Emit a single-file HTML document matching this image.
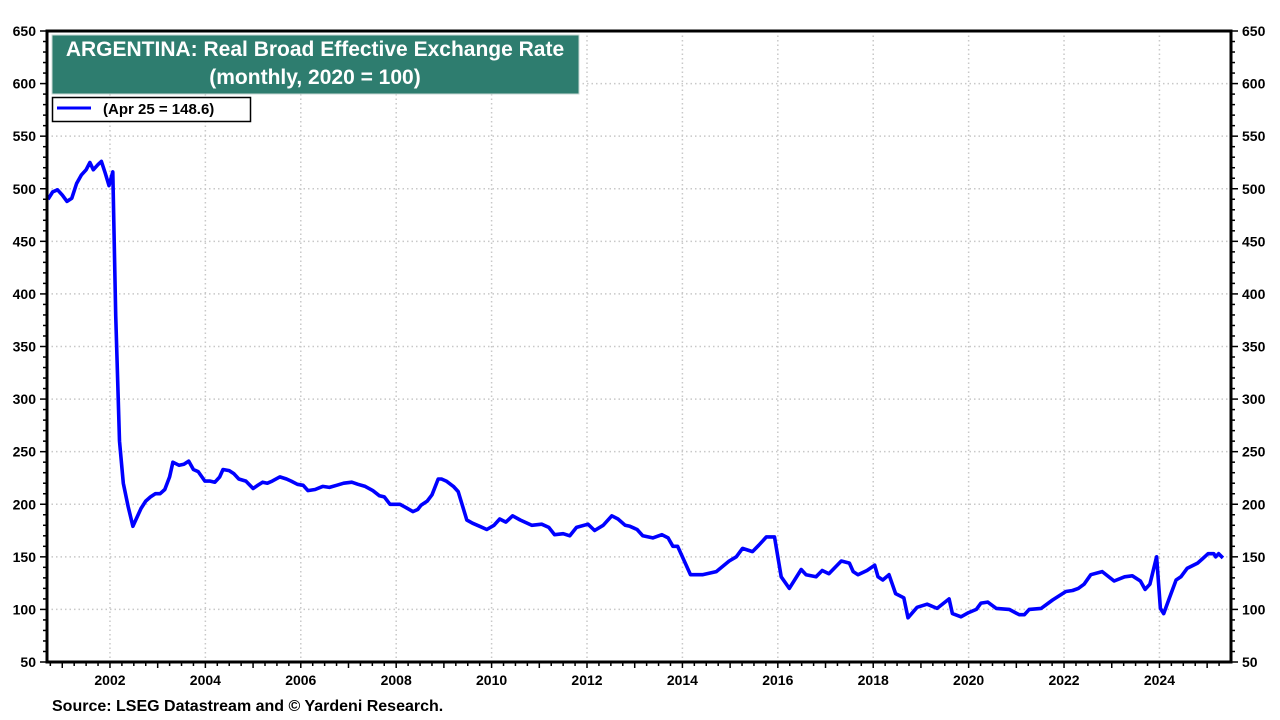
<!DOCTYPE html>
<html><head><meta charset="utf-8"><style>
html,body{margin:0;padding:0;background:#fff;}
svg{display:block;font-family:"Liberation Sans",Arial,sans-serif;}
</style></head><body>
<svg id="chart" width="1280" height="720" xmlns="http://www.w3.org/2000/svg">
<g id="grid"></g>
<g id="axes"></g>
<g id="series"></g>
<rect x="47" y="31" width="1184" height="631" fill="none" stroke="#000" stroke-width="3"/>
<g>
<rect x="52" y="35" width="527" height="59" fill="#2e7d6f" stroke="#c9d9d4" stroke-width="1"/>
<text x="315" y="56" text-anchor="middle" font-size="21" font-weight="bold" fill="#fff">ARGENTINA: Real Broad Effective Exchange Rate</text>
<text x="315" y="84" text-anchor="middle" font-size="21" font-weight="bold" fill="#fff">(monthly, 2020 = 100)</text>
</g>
<g>
<rect x="52.5" y="97.5" width="198" height="24" fill="#fff" stroke="#000" stroke-width="1.5"/>
<line x1="57" y1="108" x2="91" y2="108" stroke="#0000ff" stroke-width="3"/>
<text x="103" y="114" font-size="15" font-weight="bold" fill="#000">(Apr 25 = 148.6)</text>
</g>
<text x="52" y="711" font-size="16" font-weight="bold" fill="#000">Source: LSEG Datastream and © Yardeni Research.</text>
</svg>
<script>
const dates=[2000.7,2000.8,2000.9,2001.0,2001.1,2001.2,2001.3,2001.4,2001.5,2001.58,2001.65,2001.75,2001.82,2001.9,2001.98,2002.06,2002.12,2002.2,2002.28,2002.38,2002.48,2002.55,2002.65,2002.75,2002.85,2002.95,2003.05,2003.15,2003.25,2003.32,2003.45,2003.55,2003.65,2003.75,2003.85,2003.99,2004.1,2004.2,2004.3,2004.37,2004.5,2004.6,2004.7,2004.85,2005.0,2005.1,2005.2,2005.3,2005.4,2005.56,2005.7,2005.8,2005.93,2006.05,2006.15,2006.3,2006.46,2006.6,2006.75,2006.9,2007.07,2007.2,2007.35,2007.51,2007.65,2007.75,2007.87,2008.08,2008.2,2008.35,2008.45,2008.52,2008.65,2008.75,2008.88,2008.95,2009.05,2009.2,2009.3,2009.48,2009.6,2009.75,2009.9,2010.05,2010.17,2010.3,2010.44,2010.6,2010.84,2011.05,2011.2,2011.32,2011.5,2011.64,2011.78,2012.02,2012.16,2012.34,2012.52,2012.65,2012.8,2012.9,2013.05,2013.17,2013.38,2013.57,2013.7,2013.8,2013.9,2014.05,2014.17,2014.42,2014.71,2014.98,2015.13,2015.26,2015.47,2015.6,2015.76,2015.93,2016.07,2016.24,2016.49,2016.59,2016.8,2016.93,2017.07,2017.33,2017.5,2017.58,2017.68,2017.87,2018.03,2018.1,2018.2,2018.33,2018.47,2018.64,2018.73,2018.92,2019.13,2019.34,2019.59,2019.66,2019.84,2020.0,2020.16,2020.26,2020.4,2020.58,2020.85,2021.06,2021.17,2021.27,2021.52,2021.76,2022.04,2022.18,2022.3,2022.42,2022.56,2022.8,2023.05,2023.27,2023.43,2023.6,2023.7,2023.8,2023.94,2024.02,2024.09,2024.21,2024.35,2024.45,2024.58,2024.8,2024.9,2025.02,2025.14,2025.18,2025.24,2025.33];
const values=[490,497,499,494,488,491,505,513,518,525,518,523,526,515,503,516,380,260,220,198,179,186,196,203,207,210,210,214,226,240,237,238,241,233,231,222,222,221,226,233,232,229,224,222,215,218,221,220,222,226,224,222,219,218,213,214,217,216,218,220,221,219,217,213,208,207,200,200,197,193,195,199,203,209,224,224,222,217,212,185,182,179,176,180,186,183,189,185,180,181,178,171,172,170,178,181,175,180,189,186,180,179,176,170,168,171,168,160,160,145,133,133,136,146,150,158,155,161,169,169,131,120,138,133,131,137,134,146,144,136,133,137,142,131,128,133,115,111,92,102,105,101,110,96,93,97,100,106,107,101,100,95,95,100,101,109,117,118,120,124,133,136,127,131,132,127,119,124,150,101,96,111,128,131,139,144,148,153,153,150,153,149];
const yTicks=[50,100,150,200,250,300,350,400,450,500,550,600,650];
const xTickYears=[2002,2004,2006,2008,2010,2012,2014,2016,2018,2020,2022,2024];

const NS='http://www.w3.org/2000/svg';
const L=47,R=1231,T=31,B=662,X0=2000.68,X1=2025.5,Y0=50,Y1=650;
const xs=v=>L+(v-X0)/(X1-X0)*(R-L);
const ys=v=>B-(v-Y0)/(Y1-Y0)*(B-T);
function mk(tag,attrs,parent){const e=document.createElementNS(NS,tag);for(const k in attrs)e.setAttribute(k,attrs[k]);parent.appendChild(e);return e;}
const grid=document.getElementById('grid'),axes=document.getElementById('axes'),series=document.getElementById('series');
yTicks.forEach(v=>{
  const y=ys(v);
  if(v>Y0&&v<Y1){const g=mk('line',{x1:L,x2:R,y1:y,y2:y,stroke:'#c8c8c8','stroke-width':1.5,'stroke-dasharray':'1.5,3'},grid);
  
  }
  const t1=mk('text',{x:36,y:y+5,'text-anchor':'end','font-size':14,'font-weight':'bold'},axes);t1.textContent=v;
  
  
  const t2=mk('text',{x:1242,y:y+5,'text-anchor':'start','font-size':14,'font-weight':'bold'},axes);t2.textContent=v;
  
  
});
for(let v=Y0;v<=Y1;v+=10){const y=ys(v);const len=(v%50===0)?7:4;
  mk('line',{x1:L-len,x2:L,y1:y,y2:y,stroke:'#000','stroke-width':1.5},axes);
  mk('line',{x1:R,x2:R+len,y1:y,y2:y,stroke:'#000','stroke-width':1.5},axes);}
xTickYears.forEach(yr=>{
  const x=xs(yr);
  const g=mk('line',{x1:x,x2:x,y1:T,y2:B,stroke:'#c8c8c8','stroke-width':1.5,'stroke-dasharray':'1.5,3'},grid);
  
  
  const t=mk('text',{x:x,y:685,'text-anchor':'middle','font-size':14,'font-weight':'bold'},axes);t.textContent=yr;
  
  
});
for(let q=2000.75;q<X1;q+=0.25){const x=xs(q);const major=Math.abs(q-Math.round(q))<1e-6;
  mk('line',{x1:x,x2:x,y1:B,y2:B+(major?6:4),stroke:'#000','stroke-width':1.5},axes);}
const d=dates.map((t,i)=>(i?'L':'M')+xs(t).toFixed(1)+','+ys(values[i]).toFixed(1)).join(' ');
const p=mk('path',{d:d,fill:'none',stroke:'#0000ff','stroke-width':3.6,'stroke-linejoin':'round'},series);


</script>
</body></html>
